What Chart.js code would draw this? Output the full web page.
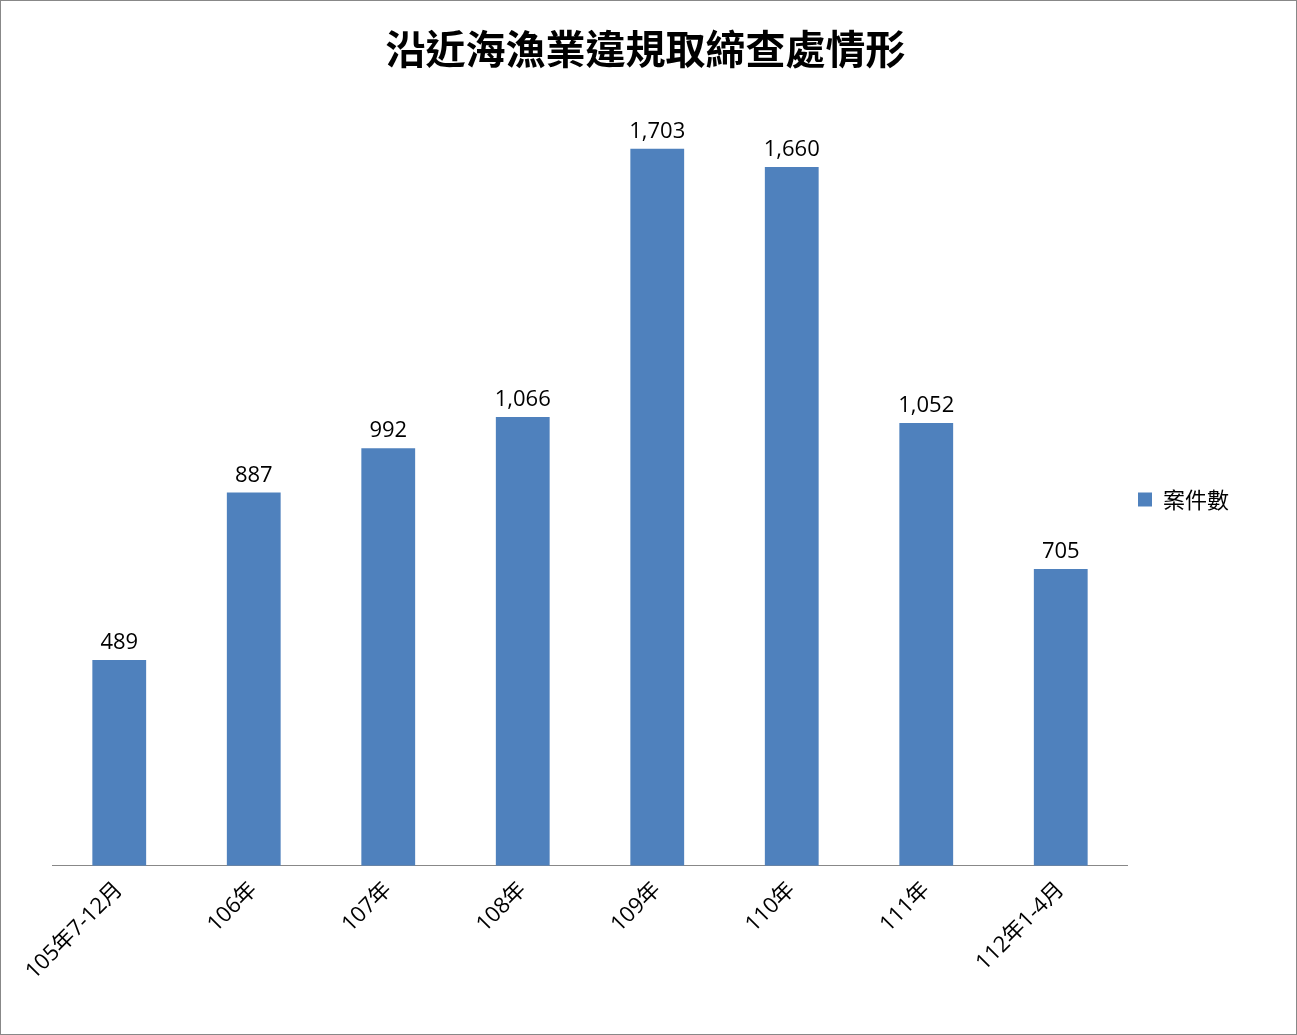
<!DOCTYPE html>
<html>
<head>
<meta charset="utf-8">
<script src="https://cdn.jsdelivr.net/npm/chart.js@4"></script>
<style>
  html, body { margin: 0; padding: 0; background: #fff; }
  #wrap { width: 1295px; height: 1033px; border: 1px solid #888; position: relative; }
</style>
</head>
<body>
<div id="wrap"><canvas id="chart"></canvas></div>
<script>
const categories = ['105年7-12月', '106年', '107年', '108年', '109年', '110年', '111年', '112年1-4月'];
const caseCounts = [489, 887, 992, 1066, 1703, 1660, 1052, 705];
const seriesName = '案件數';
const chartTitle = '沿近海漁業違規取締查處情形';

// draw values above bars
const valueLabels = {
    id: 'valueLabels',
    afterDatasetsDraw(chart) {
        const ctx = chart.ctx;
        const meta = chart.getDatasetMeta(0);
        ctx.save();
        ctx.font = '22px "Open Sans", "Noto Sans", sans-serif';
        ctx.fillStyle = '#000';
        ctx.textAlign = 'center';
        ctx.textBaseline = 'bottom';
        meta.data.forEach((bar, i) => {
            ctx.fillText(caseCounts[i].toLocaleString('en-US'), bar.x, bar.y - 6);
        });
        ctx.restore();
    }
};

new Chart(document.getElementById('chart'), {
    type: 'bar',
    data: {
        labels: categories,
        datasets: [{
            label: seriesName,
            data: caseCounts,
            backgroundColor: '#4f81bd',
            categoryPercentage: 1,
            barPercentage: 0.4
        }]
    },
    options: {
        responsive: true,
        maintainAspectRatio: false,
        animation: false,
        layout: { padding: { left: 51, right: 57, top: 10, bottom: 46 } },
        plugins: {
            title: {
                display: true,
                text: chartTitle,
                color: '#000',
                font: { family: '"Noto Sans CJK TC"', size: 40, weight: 'bold' },
                padding: { top: 14, bottom: 35 }
            },
            legend: {
                position: 'right',
                labels: {
                    color: '#000',
                    boxWidth: 14,
                    boxHeight: 14,
                    padding: 10,
                    font: { family: '"Noto Sans CJK TC"', size: 22 }
                }
            },
            tooltip: { enabled: false }
        },
        scales: {
            x: {
                grid: { display: false },
                border: { color: '#888' },
                ticks: {
                    color: '#000',
                    minRotation: 45,
                    maxRotation: 45,
                    font: { family: '"Open Sans", "Noto Sans CJK TC"', size: 22 }
                }
            },
            y: {
                display: false,
                min: 0,
                max: 1800
            }
        }
    },
    plugins: [valueLabels]
});
</script>
</body>
</html>
